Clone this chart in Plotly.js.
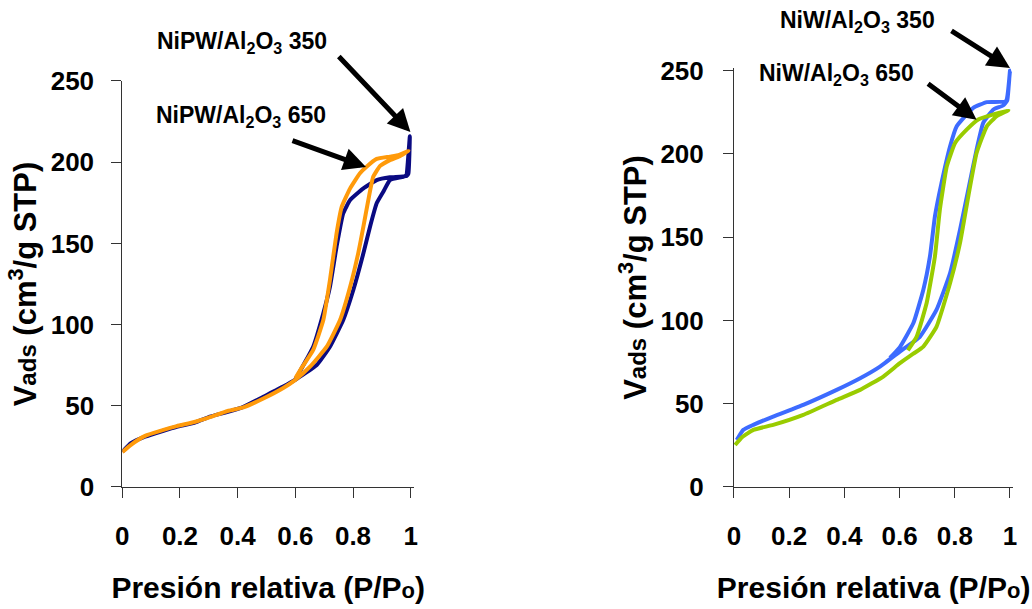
<!DOCTYPE html>
<html>
<head>
<meta charset="utf-8">
<script src="https://cdn.plot.ly/plotly-3.0.1.min.js"></script>
<style>html,body{margin:0;padding:0;background:#fff;}#chart{width:1032px;height:609px;}</style>
</head>
<body>
<div id="chart"></div>
<script>
// NiPW/Al2O3 350 (adsorption then desorption)
const nipw350_p = [0, 0.03, 0.079, 0.14, 0.189, 0.25, 0.304, 0.36, 0.42, 0.489, 0.558, 0.6, 0.674, 0.72, 0.766, 0.801, 0.836, 0.859, 0.882, 0.905, 0.928, 0.974, 0.985, 0.99, 0.997, 0.992, 0.986, 0.928, 0.882, 0.836, 0.79, 0.766, 0.743, 0.72, 0.697, 0.662, 0.628, 0.6];
const nipw350_v = [21.7, 27, 31, 34.5, 37.1, 39.5, 43.3, 46, 49.4, 55.6, 61.8, 66, 75.1, 86.4, 102.8, 121.3, 143.9, 160.3, 174.7, 181.8, 189, 191, 192, 200, 216, 193, 191.5, 190.7, 189, 183.9, 176.7, 168.5, 148, 123.3, 107, 86.4, 75.1, 66];
// NiPW/Al2O3 650
const nipw650_p = [0, 0.03, 0.079, 0.14, 0.189, 0.25, 0.304, 0.36, 0.42, 0.489, 0.558, 0.6, 0.651, 0.709, 0.755, 0.79, 0.818, 0.836, 0.853, 0.87, 0.894, 0.928, 0.96, 0.992, 0.96, 0.928, 0.882, 0.847, 0.824, 0.79, 0.761, 0.743, 0.72, 0.697, 0.662, 0.617, 0.6];
const nipw650_v = [21.5, 26, 31.5, 35, 37.5, 40, 43, 46.5, 49, 54.5, 61, 66, 74.1, 86.4, 102.8, 123.3, 143.9, 160.3, 176.7, 191, 197.7, 201.3, 203.5, 207, 204.5, 203.4, 202, 197.2, 193.2, 183.9, 172.6, 156.2, 127.5, 102.8, 84.4, 72, 67];
// NiW/Al2O3 350
const niw350_p = [0.01, 0.034, 0.07, 0.142, 0.251, 0.372, 0.457, 0.529, 0.601, 0.674, 0.734, 0.783, 0.819, 0.849, 0.879, 0.903, 0.94, 0.975, 0.99, 0.995, 1.0, 0.985, 0.916, 0.867, 0.807, 0.783, 0.752, 0.728, 0.71, 0.686, 0.65, 0.601, 0.565];
const niw350_v = [28.2, 34.3, 37.3, 42.3, 49.3, 58.3, 65.3, 72.3, 81.3, 90.3, 106.4, 128.4, 154.4, 178.5, 202.5, 218.6, 226.6, 229, 232, 240, 250, 231.6, 231, 227.6, 216.5, 204.5, 182.5, 162.4, 138.4, 118.4, 98.4, 84, 77.5];
// NiW/Al2O3 650
const niw650_p = [0.004, 0.03, 0.07, 0.142, 0.251, 0.372, 0.457, 0.541, 0.601, 0.65, 0.686, 0.734, 0.783, 0.819, 0.849, 0.879, 0.916, 0.952, 0.994, 0.94, 0.885, 0.843, 0.801, 0.771, 0.746, 0.728, 0.698, 0.662, 0.63];
const niw650_v = [25.2, 30, 34.3, 37.3, 43.3, 52.3, 58.3, 66.3, 74.3, 80, 84.3, 96.3, 122.4, 146.5, 174.5, 200.5, 216.5, 222.6, 226.1, 223.6, 220.6, 214.5, 206.5, 192.5, 166.5, 138.4, 110.4, 90.3, 82];

const labels = ["NiPW/Al<sub>2</sub>O<sub>3</sub> 350", "NiPW/Al<sub>2</sub>O<sub>3</sub> 650", "NiW/Al<sub>2</sub>O<sub>3</sub> 350", "NiW/Al<sub>2</sub>O<sub>3</sub> 650"];
const xTickVals = [0, 0.2, 0.4, 0.6, 0.8, 1];
const xTickText = ['0', '0.2', '0.4', '0.6', '0.8', '1'];
const yTickVals = [0, 50, 100, 150, 200, 250];
const xTitle = "Presión relativa (P/P<span style='font-size:22px'>o</span>)";
const yTitle = "V<span style='font-size:24px'>ads</span> (cm<sup>3</sup>/g STP)";

const FAM = "Liberation Sans, Arial, sans-serif";
const W = 4;
const traces = [
  {x: nipw350_p, y: nipw350_v, xaxis: 'x', yaxis: 'y', mode: 'lines', line: {color: '#0A0A82', width: W, shape: 'spline', smoothing: 0.4}},
  {x: nipw650_p, y: nipw650_v, xaxis: 'x', yaxis: 'y', mode: 'lines', line: {color: '#FF9A0A', width: W, shape: 'spline', smoothing: 0.4}},
  {x: niw350_p, y: niw350_v, xaxis: 'x2', yaxis: 'y2', mode: 'lines', line: {color: '#3D6BFF', width: W, shape: 'spline', smoothing: 0.4}},
  {x: niw650_p, y: niw650_v, xaxis: 'x2', yaxis: 'y2', mode: 'lines', line: {color: '#99CC00', width: W, shape: 'spline', smoothing: 0.4}}
];

function xax(domain, anchor) {
  return {domain: domain, anchor: anchor, range: [0, 1.012], tickvals: xTickVals, ticktext: xTickText,
    ticks: 'outside', ticklen: 10, tickwidth: 1, tickcolor: '#333', showline: true, linecolor: '#333', linewidth: 1,
    showgrid: false, zeroline: false, ticklabelstandoff: 16,
    tickfont: {family: FAM, size: 26, color: '#000', weight: 'bold'},
    title: {text: xTitle, font: {family: FAM, size: 30, color: '#000', weight: 'bold'}, standoff: 26}};
}
function yax(domain, anchor, top, standoff) {
  return {domain: domain, anchor: anchor, range: [0, top], tickvals: yTickVals,
    ticks: 'outside', ticklen: 10, tickwidth: 1, tickcolor: '#333', showline: true, linecolor: '#333', linewidth: 1,
    showgrid: false, zeroline: false, ticklabelstandoff: standoff,
    tickfont: {family: FAM, size: 26, color: '#000', weight: 'bold'},
    title: {text: yTitle, font: {family: FAM, size: 31, color: '#000', weight: 'bold'}, standoff: 4}};
}

const annFont = {family: FAM, size: 23, color: '#000', weight: 'bold'};
const arrow = {text: '', showarrow: true, arrowhead: 2, arrowsize: 0.9, arrowwidth: 5, arrowcolor: '#000', standoff: 0};

const layout = {
  width: 1032, height: 609,
  margin: {l: 0, r: 0, t: 0, b: 0},
  paper_bgcolor: '#fff', plot_bgcolor: '#fff',
  showlegend: false,
  xaxis: xax([0.11851, 0.40131], 'y'),
  yaxis: yax([0.20033, 0.86700], 'x', 250, 12),
  xaxis2: xax([0.71124, 0.98188], 'y2'),
  yaxis2: yax([0.20033, 0.88835], 'x2', 251.5, 14),
  annotations: [
    {text: labels[0], xref: 'paper', yref: 'paper', x: 0.2345, y: 0.931, xanchor: 'center', yanchor: 'middle', showarrow: false, font: annFont},
    {text: labels[1], xref: 'paper', yref: 'paper', x: 0.234, y: 0.808, xanchor: 'center', yanchor: 'middle', showarrow: false, font: annFont},
    {text: labels[2], xref: 'paper', yref: 'paper', x: 0.831, y: 0.964, xanchor: 'center', yanchor: 'middle', showarrow: false, font: annFont},
    {text: labels[3], xref: 'paper', yref: 'paper', x: 0.8106, y: 0.877, xanchor: 'center', yanchor: 'middle', showarrow: false, font: annFont},
    Object.assign({xref: 'x', yref: 'y', x: 0.999, y: 218.6, ax: -73, ay: -77}, arrow),
    Object.assign({xref: 'x', yref: 'y', x: 0.845, y: 197, ax: -75, ay: -27}, arrow),
    Object.assign({xref: 'x2', yref: 'y2', x: 1.0, y: 251.5, ax: -60, ay: -38}, arrow),
    Object.assign({xref: 'x2', yref: 'y2', x: 0.879, y: 220.5, ax: -50, ay: -37}, arrow)
  ]
};

Plotly.newPlot('chart', traces, layout, {displayModeBar: false, staticPlot: true});
</script>
</body>
</html>
